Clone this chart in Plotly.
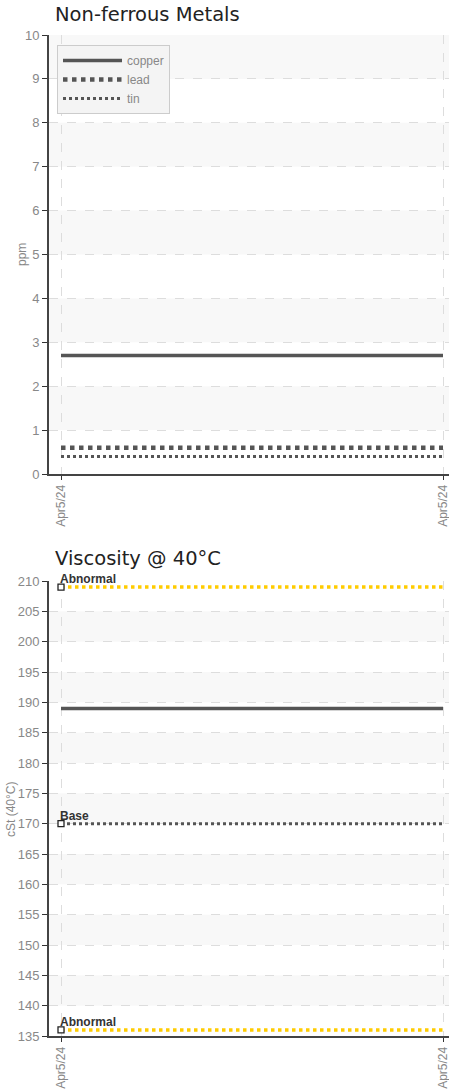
import plotly.graph_objects as go

# ---- data ----
x_idx = [0, 1]
x_labels = ["Apr5/24", "Apr5/24"]

metal_names = ["copper", "lead", "tin"]
copper = [2.7, 2.7]
lead = [0.6, 0.6]
tin = [0.4, 0.4]
ppm_ticks = list(range(0, 11))

visc = [189, 189]
visc_base = [170, 170]
visc_abn_high = [209, 209]
visc_abn_low = [136, 136]
visc_ticks = list(range(135, 211, 5))

W, H = 449, 1091
sans = "Liberation Sans, Arial, sans-serif"
tick_font = dict(family=sans, size=13, color="#888888")
xtick_font = dict(family=sans, size=12, color="#888888")
dark = "#555555"
gold = "#FFCC00"

def px_x(px):
    return px / W

def py(px):
    return 1 - px / H

fig = go.Figure()

# chart 1
fig.add_trace(go.Scatter(x=x_idx, y=copper, mode="lines", name=metal_names[0],
                         line=dict(color=dark, width=3.5), xaxis="x", yaxis="y"))
fig.add_trace(go.Scatter(x=x_idx, y=lead, mode="lines", name=metal_names[1],
                         line=dict(color=dark, width=4.5, dash="dot"), xaxis="x", yaxis="y"))
fig.add_trace(go.Scatter(x=x_idx, y=tin, mode="lines", name=metal_names[2],
                         line=dict(color=dark, width=3, dash="dot"), xaxis="x", yaxis="y"))

# chart 2
fig.add_trace(go.Scatter(x=x_idx, y=visc_abn_high, mode="lines", showlegend=False,
                         line=dict(color=gold, width=3.5, dash="dot"), xaxis="x2", yaxis="y2"))
fig.add_trace(go.Scatter(x=x_idx, y=visc_abn_low, mode="lines", showlegend=False,
                         line=dict(color=gold, width=3.5, dash="dot"), xaxis="x2", yaxis="y2"))
fig.add_trace(go.Scatter(x=x_idx, y=visc_base, mode="lines", showlegend=False,
                         line=dict(color=dark, width=3, dash="dot"), xaxis="x2", yaxis="y2"))
fig.add_trace(go.Scatter(x=x_idx, y=visc, mode="lines", showlegend=False,
                         line=dict(color=dark, width=3.5), xaxis="x2", yaxis="y2"))
marker_y = [visc_abn_high[0], visc_base[0], visc_abn_low[0]]
marker_txt = ["Abnormal", "Base", "Abnormal"]
fig.add_trace(go.Scatter(x=[x_idx[0]] * 3, y=marker_y, mode="markers", showlegend=False,
                         marker=dict(symbol="square", size=6, color="white",
                                     line=dict(color="#222222", width=1.3)),
                         xaxis="x2", yaxis="y2"))

shapes = []
for v in range(1, 10, 2):
    shapes.append(dict(type="rect", xref="x domain", yref="y", x0=0, x1=1, y0=v, y1=v + 1,
                       fillcolor="#f8f8f8", line_width=0, layer="below"))
for v in range(140, 205, 10):
    shapes.append(dict(type="rect", xref="x2 domain", yref="y2", x0=0, x1=1, y0=v, y1=v + 5,
                       fillcolor="#f8f8f8", line_width=0, layer="below"))

annotations = [
    dict(text="Non-ferrous Metals", xref="paper", yref="paper", x=px_x(53), y=py(14),
         xanchor="left", yanchor="middle", showarrow=False,
         font=dict(family="DejaVu Sans", size=19.5, color="#222222")),
    dict(text="Viscosity @ 40°C", xref="paper", yref="paper", x=px_x(53), y=py(558),
         xanchor="left", yanchor="middle", showarrow=False,
         font=dict(family="DejaVu Sans", size=19.5, color="#222222")),
    dict(text="ppm", xref="paper", yref="paper", x=px_x(22), y=py(255), textangle=-90,
         xanchor="center", yanchor="middle", showarrow=False,
         font=dict(family=sans, size=12, color="#888888")),
    dict(text="cSt (40°C)", xref="paper", yref="paper", x=px_x(11), y=py(810), textangle=-90,
         xanchor="center", yanchor="middle", showarrow=False,
         font=dict(family=sans, size=12, color="#888888")),
]
for yv, t in zip(marker_y, marker_txt):
    annotations.append(dict(text="<b>" + t + "</b>", xref="x2", yref="y2", x=x_idx[0], y=yv,
                            xanchor="left", yanchor="bottom", showarrow=False, xshift=-3, yshift=-1,
                            font=dict(family=sans, size=12, color="#333333")))

xr = [-12 / 382, 1 + 6 / 382]
xcommon = dict(range=xr, tickmode="array", tickvals=x_idx, ticktext=x_labels, tickangle=-90,
               tickfont=xtick_font, showgrid=True, gridcolor="#dddddd", griddash="dash", gridwidth=1,
               showline=True, linecolor="#444444", linewidth=2, ticks="outside", ticklen=4,
               tickcolor="#333333", zeroline=False, fixedrange=True, domain=[px_x(49), 1],
               automargin=False, ticklabeloverflow="allow")
ycommon = dict(tickfont=tick_font, showgrid=True, gridcolor="#dddddd", griddash="dash", gridwidth=1,
               showline=True, linecolor="#444444", linewidth=2, ticks="outside", ticklen=5,
               tickcolor="#333333", zeroline=False, fixedrange=True, automargin=False)

fig.update_layout(
    width=W, height=H, margin=dict(l=0, r=0, t=0, b=0),
    paper_bgcolor="white", plot_bgcolor="white",
    xaxis=dict(**xcommon, anchor="y"),
    yaxis=dict(**ycommon, range=[0, 10], tickvals=ppm_ticks, domain=[py(474), py(35)], anchor="x"),
    xaxis2=dict(**xcommon, anchor="y2"),
    yaxis2=dict(**ycommon, range=[135, 210], tickvals=visc_ticks, domain=[py(1036), py(581)], anchor="x2"),
    shapes=shapes, annotations=annotations,
    legend=dict(x=px_x(57), y=py(45), xanchor="left", yanchor="top", bgcolor="#f4f4f4",
                bordercolor="#cccccc", borderwidth=1, itemwidth=59, tracegroupgap=0,
                font=dict(family=sans, size=12, color="#888888")),
    showlegend=True,
)

fig.write_html("out.html", config={"displayModeBar": False},
               post_script="document.body.style.margin='0';document.body.style.overflow='hidden';")
